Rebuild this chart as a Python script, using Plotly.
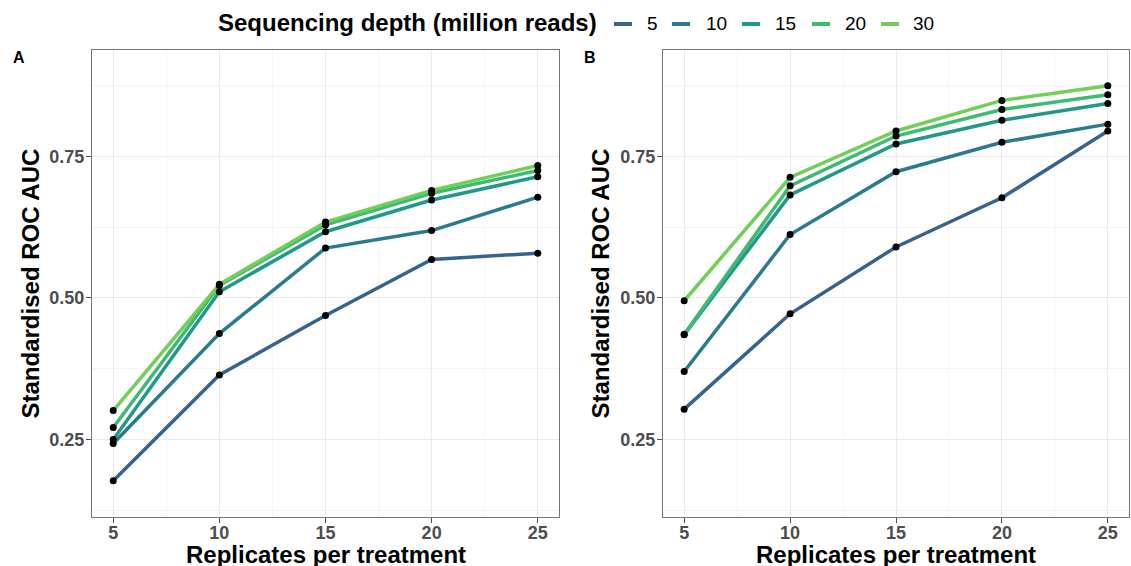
import plotly.graph_objects as go

replicates = [5, 10, 15, 20, 25]
depths = ["5", "10", "15", "20", "30"]
colors = ["#35638D", "#2A7B8E", "#22978A", "#3DBA74", "#6FCF57"]

panel_a = {
    "5":  [0.177, 0.364, 0.469, 0.568, 0.579],
    "10": [0.243, 0.437, 0.588, 0.619, 0.678],
    "15": [0.250, 0.511, 0.617, 0.673, 0.714],
    "20": [0.271, 0.522, 0.629, 0.685, 0.725],
    "30": [0.301, 0.524, 0.634, 0.690, 0.734],
}
panel_b = {
    "5":  [0.3035, 0.472, 0.590, 0.677, 0.795],
    "10": [0.370, 0.612, 0.723, 0.775, 0.807],
    "15": [0.435, 0.682, 0.772, 0.814, 0.8435],
    "20": [0.436, 0.698, 0.786, 0.833, 0.859],
    "30": [0.495, 0.713, 0.795, 0.849, 0.875],
}

W, H = 1131, 566
FONT = "Liberation Sans, Arial, sans-serif"
fig = go.Figure()

panels = ((panel_a, ("x", "y")), (panel_b, ("x2", "y2")))
for panel, (xa, ya) in panels:
    for d, c in zip(depths, colors):
        fig.add_trace(go.Scatter(
            x=replicates, y=panel[d], mode="lines", name=d,
            line=dict(color=c, width=3.5), xaxis=xa, yaxis=ya,
            showlegend=False, hoverinfo="skip"))
for panel, (xa, ya) in panels:
    for d in depths:
        fig.add_trace(go.Scatter(
            x=replicates, y=panel[d], mode="markers",
            marker=dict(color="black", size=7), xaxis=xa, yaxis=ya,
            showlegend=False, hoverinfo="skip"))

tickfont = dict(family=FONT, size=18, color="#4D4D4D")
titlefont = dict(family=FONT, size=24, color="black")

def xaxis(domain, anchor):
    return dict(domain=domain, anchor=anchor, range=[4, 26],
                tickvals=replicates, ticktext=[f"<b>{v}</b>" for v in replicates],
                tickfont=tickfont, ticks="outside", ticklen=5, tickcolor="#4D4D4D",
                ticklabelstandoff=-6,
                showgrid=True, gridcolor="#EBEBEB", gridwidth=1,
                minor=dict(dtick=2.5, tick0=0, showgrid=True, gridcolor="#F5F5F5", gridwidth=1, ticks=""),
                showline=True, mirror=True, linecolor="#747474", linewidth=1,
                zeroline=False)

def yaxis(domain, anchor):
    return dict(domain=domain, anchor=anchor, range=[0.113, 0.938],
                tickvals=[0.25, 0.5, 0.75], ticktext=["<b>0.25</b>", "<b>0.50</b>", "<b>0.75</b>"],
                tickfont=tickfont, ticks="outside", ticklen=5, tickcolor="#4D4D4D",
                ticklabelstandoff=-2,
                showgrid=True, gridcolor="#EBEBEB", gridwidth=1,
                minor=dict(dtick=0.125, tick0=0.125, showgrid=True, gridcolor="#F5F5F5", gridwidth=1, ticks=""),
                showline=True, mirror=True, linecolor="#747474", linewidth=1,
                zeroline=False)

ydom = [49 / H, 516 / H]
xdom_a = [92 / W, 559 / W]
xdom_b = [663 / W, 1129 / W]

def px(x):
    return x / W

def py(y):
    return 1 - y / H

annotations = [
    dict(text="<b>A</b>", x=px(18.5), y=py(57), font=dict(family=FONT, size=16, color="black")),
    dict(text="<b>B</b>", x=px(590), y=py(57), font=dict(family=FONT, size=16, color="black")),
    # axis titles
    dict(text="<b>Replicates per treatment</b>", x=(xdom_a[0] + xdom_a[1]) / 2, y=py(554), font=titlefont),
    dict(text="<b>Replicates per treatment</b>", x=(xdom_b[0] + xdom_b[1]) / 2, y=py(554), font=titlefont),
    dict(text="<b>Standardised ROC AUC</b>", x=px(30), y=(ydom[0] + ydom[1]) / 2, textangle=-90, font=titlefont),
    dict(text="<b>Standardised ROC AUC</b>", x=px(600), y=(ydom[0] + ydom[1]) / 2, textangle=-90, font=titlefont),
    # legend title
    dict(text="<b>Sequencing depth (million reads)</b>", x=px(407), y=py(23),
         font=dict(family=FONT, size=24, color="black")),
]

# manual legend keys (compact, ggplot-like)
key_x0 = [614, 672, 742, 812, 881]
label_cx = [652.5, 716.5, 785.5, 855.5, 923.5]
shapes = []
for d, c, kx, lx in zip(depths, colors, key_x0, label_cx):
    shapes.append(dict(type="line", xref="paper", yref="paper",
                       x0=px(kx), x1=px(kx + 18), y0=py(24), y1=py(24),
                       line=dict(color=c, width=4)))
    annotations.append(dict(text=d, x=px(lx), y=py(24),
                            font=dict(family=FONT, size=19, color="black")))

for a in annotations:
    a.update(xref="paper", yref="paper", showarrow=False, xanchor="center", yanchor="middle")

fig.update_layout(
    width=W, height=H,
    margin=dict(l=0, r=0, t=0, b=0),
    paper_bgcolor="white", plot_bgcolor="white",
    font=dict(family=FONT),
    showlegend=False,
    xaxis=xaxis(xdom_a, "y"),
    yaxis=yaxis(ydom, "x"),
    xaxis2=xaxis(xdom_b, "y2"),
    yaxis2=yaxis(ydom, "x2"),
    annotations=annotations,
    shapes=shapes,
)

fig.write_html("out.html")
